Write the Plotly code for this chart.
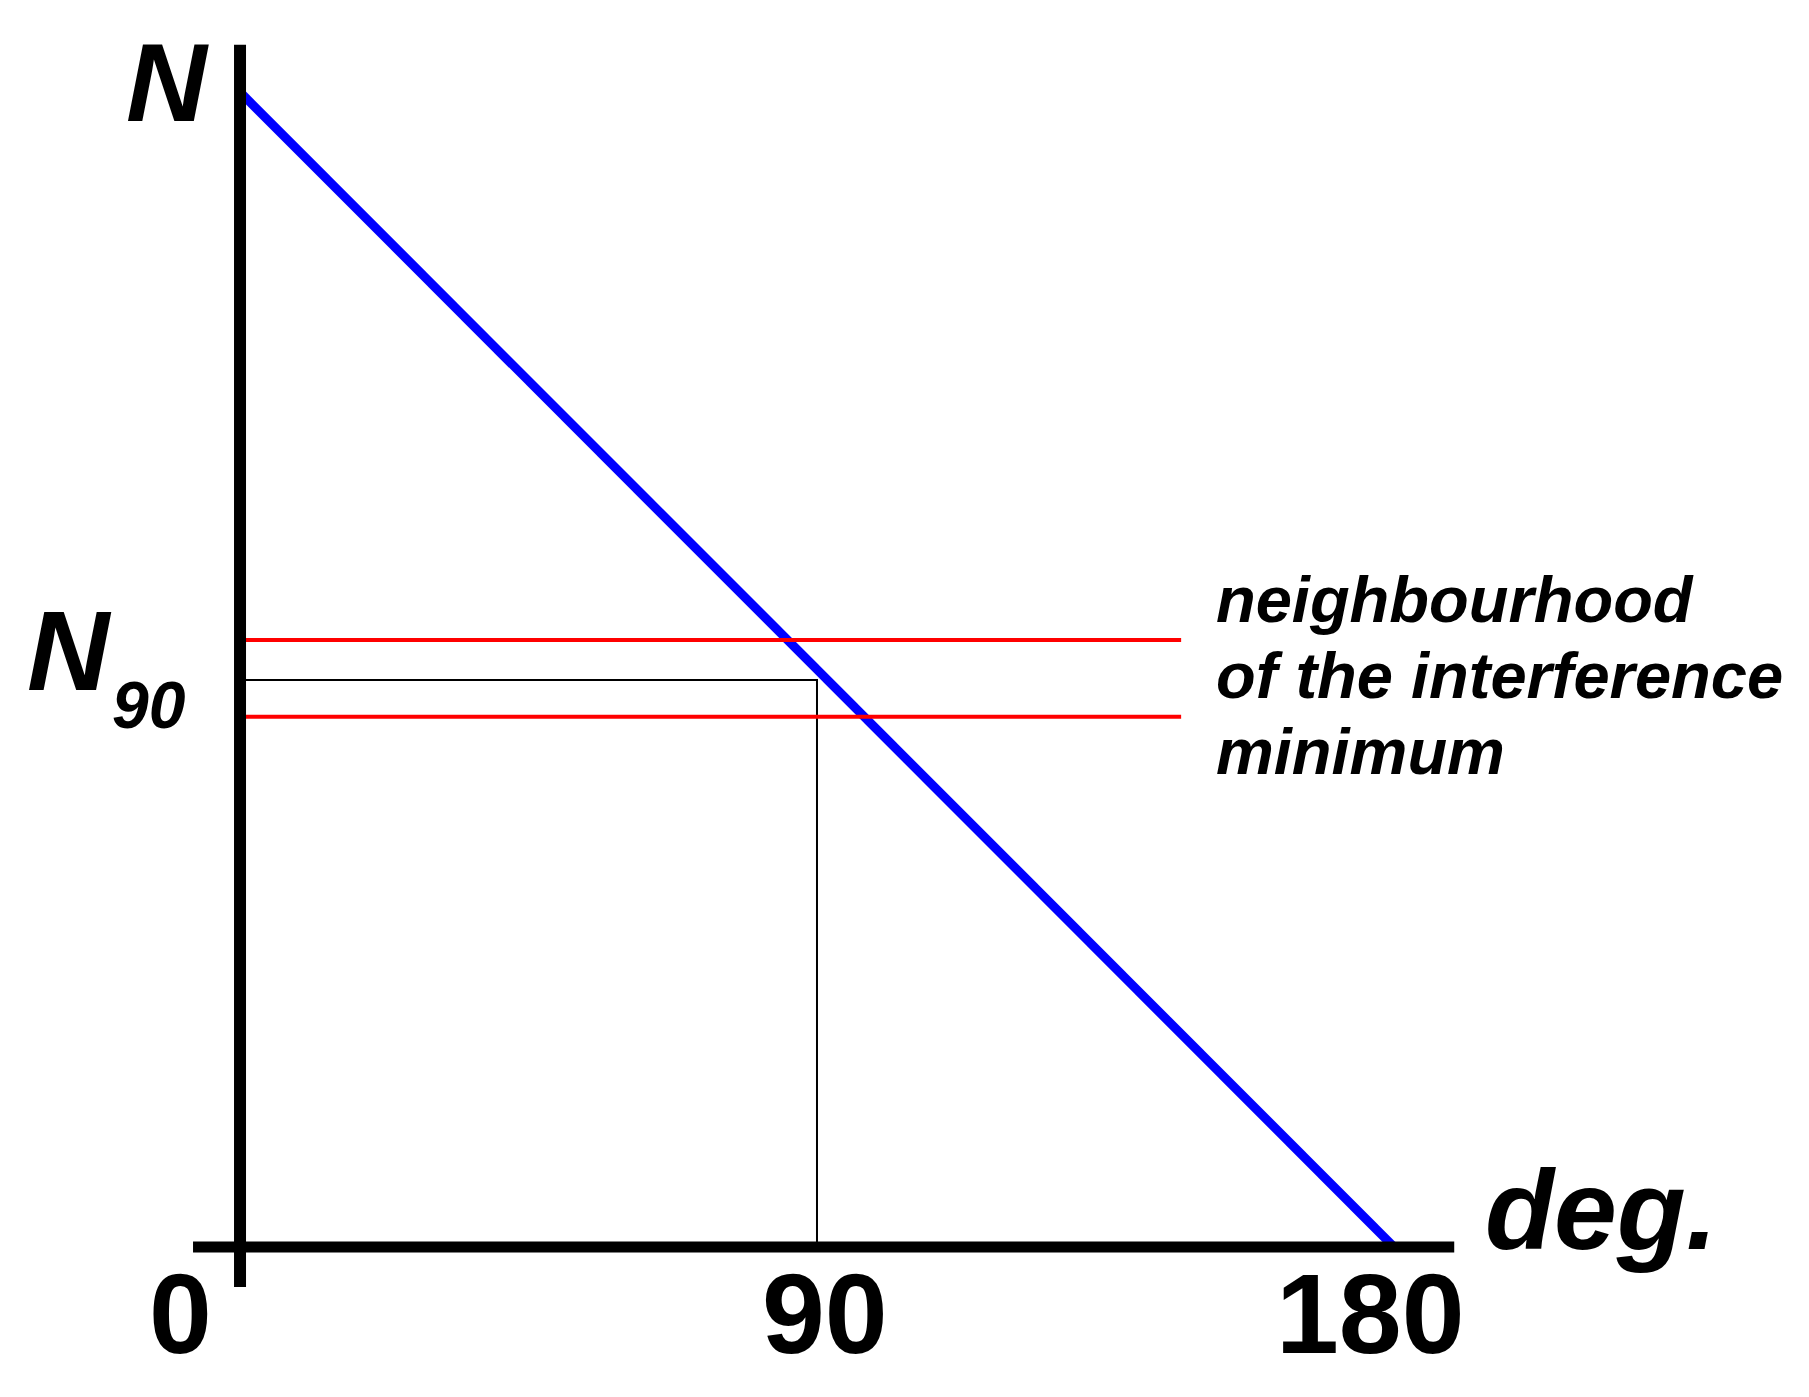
import plotly.graph_objects as go

W, H = 1809, 1397

# data (N in units of N at 0 deg)
theta = [0, 180]
n_line = [1.0, 0.0]
theta90 = 90
n90 = 0.491
band_lo, band_hi = 0.459, 0.5255
band_end = 146.8
tick_vals = [0, 90, 180]
tick_text = ["0", "90", "180"]
note_lines = ["neighbourhood", "of the interference", "minimum"]

FONT = "Liberation Sans, Arial, sans-serif"


def P(x, y):
    # pixel -> paper
    return x / W, 1 - y / H


fig = go.Figure()

# N90 guide (thin black)
fig.add_trace(go.Scatter(x=[0, theta90, theta90], y=[n90, n90, 0], mode="lines",
                         line=dict(color="black", width=2)))
# main line
fig.add_trace(go.Scatter(x=theta, y=n_line, mode="lines",
                         line=dict(color="#0000ff", width=9)))
# neighbourhood band
for yv in [band_hi, band_lo]:
    fig.add_trace(go.Scatter(x=[0, band_end], y=[yv, yv], mode="lines",
                             line=dict(color="#ff0000", width=4)))

# axes drawn as thick lines
fig.add_shape(type="line", x0=0, x1=0, y0=-0.0346, y1=1.041,
              line=dict(color="black", width=12), layer="above")
fig.add_shape(type="line", x0=-7.33, x1=189.4, y0=0, y1=0,
              line=dict(color="black", width=11), layer="above")

bi = dict(family=FONT, color="black", weight="bold", style="italic")
b = dict(family=FONT, color="black", weight="bold")

ann = []
x, y = P(167, 83)
ann.append(dict(text="N", x=x, y=y, font=dict(size=112, **bi)))
x, y = P(69, 650)
ann.append(dict(text="N", x=x, y=y, font=dict(size=114, **bi)))
x, y = P(149, 705)
ann.append(dict(text="90", x=x, y=y, font=dict(size=66, **bi)))
x, y = P(1601, 1210)
ann.append(dict(text="deg.", x=x, y=y, font=dict(size=113, **bi)))

for v, t, dx in zip(tick_vals, tick_text, [-60, 8, -23]):
    ann.append(dict(text=t, x=v, y=0, xref="x", yref="y", xshift=dx, yshift=-67,
                    font=dict(size=113, **b)))

for i, t in enumerate(note_lines):
    x, y = P(1214, 599 + 76 * i)
    ann.append(dict(text=t, x=x, y=y, xanchor="left", font=dict(size=65, **bi)))

for a in ann:
    a.setdefault("xref", "paper")
    a.setdefault("yref", "paper")
    a.setdefault("xanchor", "center")
    a["yanchor"] = "middle"
    a["showarrow"] = False
    fig.add_annotation(**a)

fig.update_layout(
    width=W, height=H,
    margin=dict(l=0, r=0, t=0, b=0),
    paper_bgcolor="white", plot_bgcolor="white",
    showlegend=False,
    xaxis=dict(visible=False, range=[-37.44, 244.74]),
    yaxis=dict(visible=False, range=[-0.1299, 1.0797]),
)

fig.write_html("out.html", config={"displayModeBar": False},
               post_script="document.body.style.margin='0';")
